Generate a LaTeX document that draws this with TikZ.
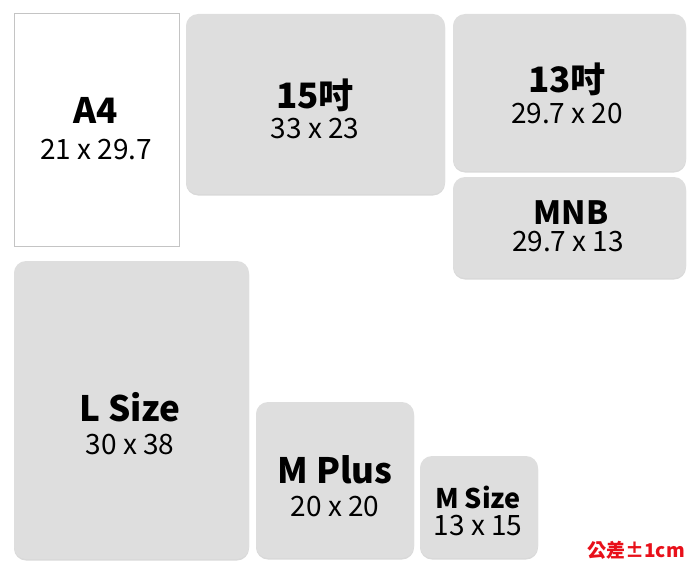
\documentclass[tikz,border=0pt]{standalone}
\usepackage{fontspec}
\setmainfont{Noto Sans CJK TC}
\usetikzlibrary{shadows}
\definecolor{cardgray}{HTML}{DEDEDE}
\definecolor{edgegray}{HTML}{C4C4C4}
\definecolor{tolred}{HTML}{E8101A}

\begin{document}
\begin{tikzpicture}[
x=1pt,
y=-1pt,
card/.style={
  fill=cardgray,
  draw=none,
  rounded corners=12pt,
  inner sep=0pt,
  drop shadow={shadow xshift=0pt, shadow yshift=-1.5pt, opacity=0.3, fill=black!50}
  },
sheet/.style={
  fill=white,
  draw=edgegray,
  line width=0.8pt,
  inner sep=0pt
  },
title/.style={
  font=\fontsize{35}{40}\selectfont\bfseries,
  inner sep=0pt
  },
dims/.style={
  font=\fontsize{28}{32}\selectfont,
  inner sep=0pt
  }
]
\useasboundingbox (0,0) rectangle (700,578);

% sheets
\node[sheet, minimum width=165pt, minimum height=233pt] (a4) at (96.5,129.5) {};
\node[card, minimum width=259pt, minimum height=180pt] (i15) at (315.5,104) {};
\node[card, minimum width=233pt, minimum height=157pt] (i13) at (569.5,92.5) {};
\node[card, minimum width=233pt, minimum height=101pt] (mnb) at (569.5,227.5) {};
\node[card, minimum width=235pt, minimum height=298pt] (lsize) at (131.5,410) {};
\node[card, minimum width=158pt, minimum height=156pt] (mplus) at (335,480) {};
\node[card, minimum width=118pt, minimum height=102pt] (msize) at (479,507) {};

% labels
\node[title] (a4t) at (96,110) {A4};
\node[dims] (a4d) at (96,150) {21 x 29.7};
\node[title] (i15t) at (315,95) {15吋};
\node[dims] (i15d) at (315,129) {33 x 23};
\node[title] (i13t) at (567,79) {13吋};
\node[dims] (i13d) at (567,114) {29.7 x 20};
\node[title, font=\fontsize{32}{36}\selectfont\bfseries] (mnbt) at (571,213) {MNB};
\node[dims] (mnbd) at (568,242) {29.7 x 13};
\node[title] (lsizet) at (130,407) {L Size};
\node[dims] (lsized) at (130,445) {30 x 38};
\node[title] (mplust) at (335,470) {M Plus};
\node[dims] (mplusd) at (335,507) {20 x 20};
\node[title, font=\fontsize{27}{30}\selectfont\bfseries] (msizet) at (478,497) {M Size};
\node[dims] (msized) at (478,526) {13 x 15};
\node[inner sep=0pt, text=tolred, font=\fontsize{19}{22}\selectfont\bfseries] (tol) at (636,550) {公差±1cm};
\end{tikzpicture}
\end{document}
